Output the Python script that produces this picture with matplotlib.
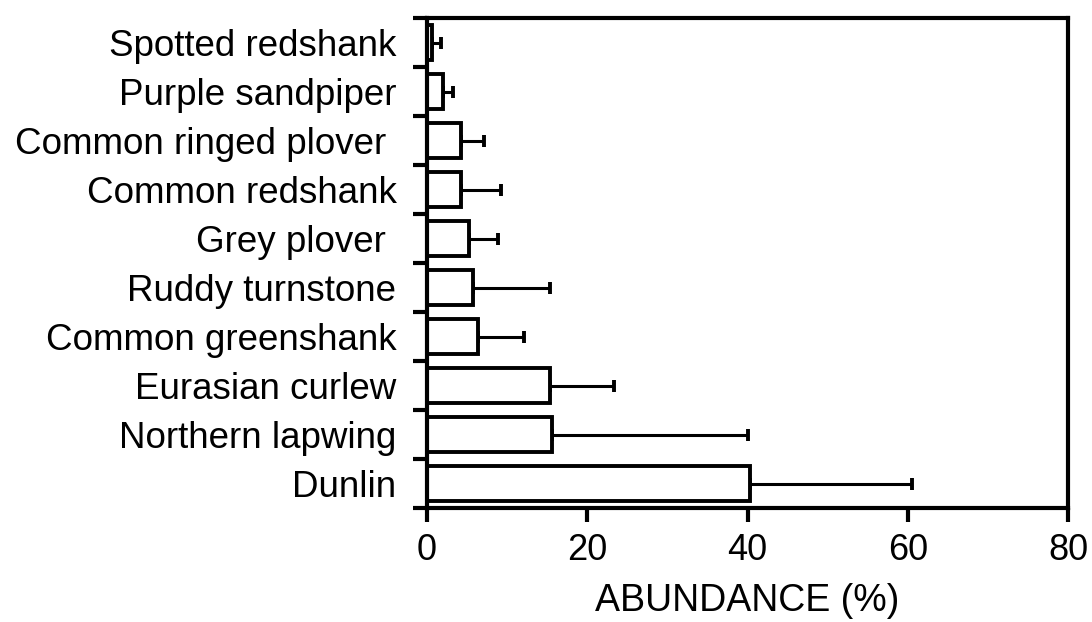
import numpy as np
import matplotlib
matplotlib.use("Agg")
import matplotlib.pyplot as plt

# dati (dal basso verso l'alto)
species = ["Dunlin", "Northern lapwing", "Eurasian curlew", "Common greenshank",
           "Ruddy turnstone", "Grey plover ", "Common redshank",
           "Common ringed plover ", "Purple sandpiper", "Spotted redshank"]
abundance = [40.3, 15.6, 15.3, 6.4, 5.7, 5.2, 4.3, 4.3, 2.0, 0.6]
err_up = [20.2, 24.4, 8.0, 5.7, 9.6, 3.7, 4.9, 2.8, 1.3, 1.2]

plt.rcParams["font.family"] = ["Liberation Sans", "DejaVu Sans"]

fig = plt.figure(figsize=(10.92, 6.22), dpi=100)
ax = fig.add_axes([427 / 1092, 1 - 508 / 622, 641 / 1092, 490 / 622])

y = np.arange(len(species))
ax.barh(y, abundance, height=0.72, color="white", edgecolor="black", linewidth=2.8, zorder=2)
ax.errorbar(abundance, y, xerr=[np.zeros(len(err_up)), err_up], fmt="none",
            ecolor="black", elinewidth=2.2, capsize=4.5, capthick=2.8, zorder=1)

ax.set_xlim(0, 80)
ax.set_ylim(-0.5, len(species) - 0.5)
ax.set_xticks([0, 20, 40, 60, 80])
ax.set_yticks(y)
ax.set_yticklabels(species)
ax.set_yticks(np.arange(-0.5, len(species), 1.0), minor=True)
ax.tick_params(axis="y", which="major", length=0, pad=22, labelsize=26.5)
ax.tick_params(axis="y", which="minor", length=10, width=3, direction="out")
ax.tick_params(axis="x", length=10, width=3, direction="out", pad=8, labelsize=26)
ax.set_xlabel("ABUNDANCE (%)", fontsize=27, labelpad=11)
for s in ax.spines.values():
    s.set_linewidth(3)

fig.savefig("out.png", dpi=100)
